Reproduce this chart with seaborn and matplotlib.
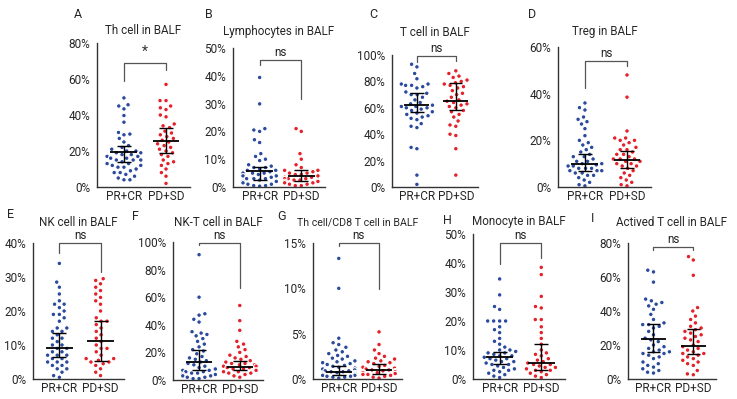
import warnings
import pandas as pd
import matplotlib
matplotlib.use("Agg")
import matplotlib.pyplot as plt
import seaborn as sns

warnings.filterwarnings("ignore")

groups = ["PR+CR", "PD+SD"]
palette = {"PR+CR": "#2b4a9c", "PD+SD": "#e3212b"}

# A: Th cell
th_pr = [49.5, 45.7, 45, 43.4, 39.7, 36, 30.3, 29.4, 29, 27, 25, 23, 22, 21, 20, 20, 19, 19, 18, 18,
         17, 17, 16, 16, 15, 15, 15, 14, 13, 13, 12, 12, 11, 11, 10, 9, 8, 8, 7, 6, 5, 4, 4]
th_pd = [57, 48, 48, 45, 44, 43, 40, 39, 35, 34, 33, 31, 30, 29, 28, 27, 26, 25, 24, 23, 22, 21,
         20, 19, 18, 17, 15, 14, 13, 12, 10, 8, 6, 2]
th_mid = [19.5, 25.5]
th_lo = [14, 19]
th_hi = [23, 33]

# B: Lymphocytes
ly_pr = [39.4, 29.9, 21, 20.5, 20, 17, 16, 12, 11, 10, 9.5, 8, 7.5, 7, 7, 6.5, 6, 6, 5.5, 5, 5, 5,
         4.5, 4, 4, 4, 3.5, 3, 3, 3, 2.5, 2, 2, 2, 1.5, 1, 1, 0.5, 0.5, 0.3]
ly_pd = [21, 20, 12, 10, 8, 7, 6, 6, 5.5, 5, 5, 4.5, 4.5, 4, 4, 3.5, 3.5, 3, 3, 3, 2.5, 2.5, 2, 2,
         2, 1.5, 1.5, 1, 1, 0.5, 0.5]
ly_mid = [5.8, 3.9]
ly_lo = [2.5, 2]
ly_hi = [7.2, 6]

# C: T cell
tc_pr = [93, 91, 86, 82, 78, 78, 77, 77, 76, 75, 72, 71, 70, 70, 68, 66, 64, 63, 62, 62, 61, 61,
         60, 60, 59, 58, 57, 56, 55, 54, 53, 52, 51, 48, 46, 45, 30, 29, 9, 2]
tc_pd = [88, 86, 84, 83, 81, 80, 79, 78, 77, 76, 75, 73, 71, 70, 68, 66, 65, 64, 63, 62, 61, 60,
         58, 57, 55, 53, 50, 47, 46, 40, 39, 29, 9]
tc_mid = [62, 65]
tc_lo = [57, 58]
tc_hi = [71, 79]

# D: Treg
tr_pr = [36, 34, 33, 30, 29, 28, 27, 25, 22, 20, 19, 18, 17, 16, 15, 14, 13, 13, 12, 11, 11, 10,
         10, 10, 9.5, 9, 9, 8, 8, 8, 7, 7, 7, 6, 6, 5, 5, 4, 3, 2, 1, 0.5]
tr_pd = [48, 38.5, 24, 21, 21, 20, 20, 19, 18, 17, 16, 16, 15, 14, 14, 13, 12, 12, 12, 11, 11, 10,
         10, 9, 9, 8, 7, 6, 5, 4, 3, 2, 1, 0.5]
tr_mid = [10, 11.7]
tr_lo = [7, 8.1]
tr_hi = [14, 15.6]

# E: NK cell
nk_pr = [34, 28.5, 27, 25, 23, 22, 22, 21, 20, 19, 19, 18, 17, 15, 15, 14, 14, 13, 12, 12, 11, 10,
         10, 9, 9, 8, 8, 7, 7, 7, 6, 6, 5, 5, 5, 4, 4, 3, 3, 2, 1, 0.5]
nk_pd = [29.5, 29, 28, 27, 26, 25, 24, 23, 22, 20, 18, 17, 17, 16, 15, 14, 13, 12, 11, 10, 9, 9,
         8, 7, 6, 6, 5.5, 5, 5, 4.5, 4, 3, 2, 1]
nk_mid = [9.1, 11.2]
nk_lo = [6.4, 5.4]
nk_hi = [13.4, 17]

# F: NK-T cell
nkt_pr = [90.8, 60, 48, 47, 44, 42, 35, 34, 33, 32, 30, 28, 26, 24, 22, 21, 19, 17, 16, 15, 14, 13,
          12, 11, 10, 9, 8, 8, 7, 7, 6, 6, 5, 5, 4, 4, 3, 3, 2, 2, 1, 1]
nkt_pd = [54, 43, 36, 28, 26, 24, 22, 20, 18, 17, 16, 15, 14, 13, 12, 12, 11, 11, 10, 10, 10, 9, 9,
          8, 8, 7, 7, 6, 6, 5, 5, 4, 3, 2]
nkt_mid = [13.3, 9.6]
nkt_lo = [7.2, 7]
nkt_hi = [21.7, 14]

# G: Th cell / CD8 T cell
ratio_pr = [13.3, 10, 4.5, 4.0, 3.8, 3.5, 3.2, 3.0, 2.8, 2.6, 2.5, 2.3, 2.2, 2.0, 1.9, 1.8, 1.7,
            1.6, 1.5, 1.4, 1.3, 1.2, 1.1, 1.0, 0.9, 0.9, 0.8, 0.8, 0.7, 0.7, 0.6, 0.6, 0.5, 0.5,
            0.5, 0.4, 0.4, 0.3, 0.3, 0.2, 0.2, 0.1]
ratio_pd = [5.2, 3.8, 3.2, 2.8, 2.5, 2.3, 2.2, 2.0, 1.9, 1.8, 1.7, 1.5, 1.4, 1.3, 1.2, 1.1, 1.0,
            1.0, 0.9, 0.9, 0.8, 0.8, 0.7, 0.7, 0.6, 0.5, 0.5, 0.4, 0.3, 0.2, 0.1]
ratio_mid = [0.75, 1.0]
ratio_lo = [0.4, 0.6]
ratio_hi = [1.47, 1.7]

# H: Monocyte
mo_pr = [34.5, 29, 25, 24, 20, 20, 20, 20, 18, 17, 16, 14, 13, 12, 11, 10, 10, 9.5, 9, 9, 8.5, 8,
         8, 7.5, 7, 7, 6.5, 6, 6, 5.5, 5, 5, 4.5, 4, 3.5, 3, 3, 2.5, 2, 1.5, 1, 0.5]
mo_pd = [38.5, 36, 28.5, 25, 24.5, 20.5, 20.5, 18, 16, 14, 12, 10, 9, 8.5, 8, 7, 6.5, 6, 5.5, 5, 5,
         4.5, 4, 4, 3.5, 3, 3, 2.5, 2, 1.5, 1, 0.5]
mo_mid = [7.6, 5.6]
mo_lo = [5.2, 3.1]
mo_hi = [9.4, 12.1]

# I: Actived T cell
at_pr = [64, 63, 57, 47, 46, 45, 44, 43, 41, 38, 35, 33, 32, 32, 31, 30, 28, 26, 24, 23, 22, 20,
         19, 18, 17, 16, 16, 15, 15, 14, 13, 12, 10, 9, 8, 7, 6, 5, 4, 3.5]
at_pd = [72, 70, 61, 42, 40, 37, 35, 33, 31, 30, 29, 28, 27, 26, 25, 24, 23, 22, 20, 19, 18, 17,
         16, 15, 15, 14, 13, 12, 11, 10, 9, 8, 5, 3, 2.5]
at_mid = [23.6, 19.6]
at_lo = [16, 15]
at_hi = [32.5, 29.5]

W, H = 737, 399

# letter, title, pr, pd, mid, lo, hi, ymax, ystep, sig, (bracket top, left leg, right leg),
# axes box px (l, r, t, b), letter px (x, y), title centre y px, title size
panels = [
    ("A", "Th cell in BALF", th_pr, th_pd, th_mid, th_lo, th_hi, 80, 20, "*", (69, 59, 65),
     (97, 190, 43, 187), (74, 15), 30, 8.4),
    ("B", "Lymphocytes in BALF", ly_pr, ly_pd, ly_mid, ly_lo, ly_hi, 50, 10, "ns", (45.8, 44, 31.7),
     (233, 325, 48, 187), (205, 15), 32, 8.4),
    ("C", "T cell in BALF", tc_pr, tc_pd, tc_mid, tc_lo, tc_hi, 100, 20, "ns", (99.5, 95, 95.4),
     (392, 478, 55, 187), (369, 15), 32, 8.4),
    ("D", "Treg in BALF", tr_pr, tr_pd, tr_mid, tr_lo, tr_hi, 60, 20, "ns", (54, 42.6, 51.7),
     (558, 651, 47, 187), (528, 15), 31, 8.4),
    ("E", "NK cell in BALF", nk_pr, nk_pd, nk_mid, nk_lo, nk_hi, 40, 10, "ns", (40.1, 37, 31.6),
     (33, 124, 243, 379), (7, 215), 223, 8.4),
    ("F", "NK-T cell in BALF", nkt_pr, nkt_pd, nkt_mid, nkt_lo, nkt_hi, 100, 20, "ns", (99, 97.6, 67),
     (173, 263, 242, 380), (132, 217), 223, 8.4),
    ("G", "Th cell/CD8 T cell in BALF", ratio_pr, ratio_pd, ratio_mid, ratio_lo, ratio_hi, 15, 5, "ns",
     (15, 14.7, 9.9), (313, 402, 243, 379), (277, 217), 223, 7.7),
    ("H", "Monocyte in BALF", mo_pr, mo_pd, mo_mid, mo_lo, mo_hi, 50, 10, "ns", (47, 39.6, 41.6),
     (473, 565, 234, 379), (443, 220), 221, 8.4),
    ("I", "Actived T cell in BALF", at_pr, at_pd, at_mid, at_lo, at_hi, 80, 20, "ns", (77.4, 75.6, 75.6),
     (628, 716, 243, 379), (591, 218), 223, 8.4),
]

sns.set_style("white")
plt.rcParams["font.family"] = ["Roboto", "DejaVu Sans"]

fig = plt.figure(figsize=(W / 100, H / 100), dpi=100)

for letter, title, pr, pd_, mid, lo, hi, ymax, ystep, sig, br, box, lpos, ty, tsize in panels:
    l, r, t, b = box
    ax = fig.add_axes([l / W, 1 - b / H, (r - l) / W, (b - t) / H])

    df = pd.DataFrame({
        "group": ["PR+CR"] * len(pr) + ["PD+SD"] * len(pd_),
        "value": pr + pd_,
    })
    # white edge keeps the dots apart like the GraphPad scatter
    sns.swarmplot(data=df, x="group", y="value", hue="group", order=groups, palette=palette,
                  size=3.3, linewidth=0.8, edgecolor="white", legend=False, clip_on=False,
                  ax=ax, zorder=2)

    # median with interquartile range
    for i in range(2):
        ax.hlines(mid[i], i - 0.32, i + 0.32, color="black", lw=1.3, zorder=3)
        ax.vlines(i, lo[i], hi[i], color="black", lw=1.0, zorder=3)
        ax.hlines([lo[i], hi[i]], i - 0.17, i + 0.17, color="black", lw=1.0, zorder=3)

    # significance bracket
    top, left_end, right_end = br
    ax.plot([0, 0, 1, 1], [left_end, top, top, right_end], color="#555555", lw=0.9,
            clip_on=False, zorder=1)
    if sig == "*":
        ax.text(0.5, top + ymax * 0.03, sig, ha="center", va="bottom", fontsize=10,
                color="#333333", clip_on=False)
    else:
        ax.text(0.5, top + ymax * 0.008, sig, ha="center", va="bottom", fontsize=8.5,
                color="#222222", clip_on=False)

    ax.set_xlim(-0.64, 1.57)
    ax.set_ylim(0, ymax)
    ticks = list(range(0, ymax + 1, ystep))
    ax.set_yticks(ticks)
    ax.set_yticklabels([f"{v}%" for v in ticks], fontsize=8.5)
    ax.set_xticks([0, 1])
    ax.set_xticklabels(groups, fontsize=8.5)
    ax.set_xlabel("")
    ax.set_ylabel("")
    ax.tick_params(axis="y", length=4, width=1, color="#333333", pad=1)
    ax.tick_params(axis="x", length=0, pad=2)
    sns.despine(ax=ax)
    for s in ["left", "bottom"]:
        ax.spines[s].set_color("#333333")
        ax.spines[s].set_linewidth(1.0)

    fig.text((l + r) / 2 / W, 1 - ty / H, title, ha="center", va="center", fontsize=tsize)
    fig.text(lpos[0] / W, 1 - lpos[1] / H, letter, ha="left", va="center", fontsize=9)

fig.savefig("out.png", dpi=100)
